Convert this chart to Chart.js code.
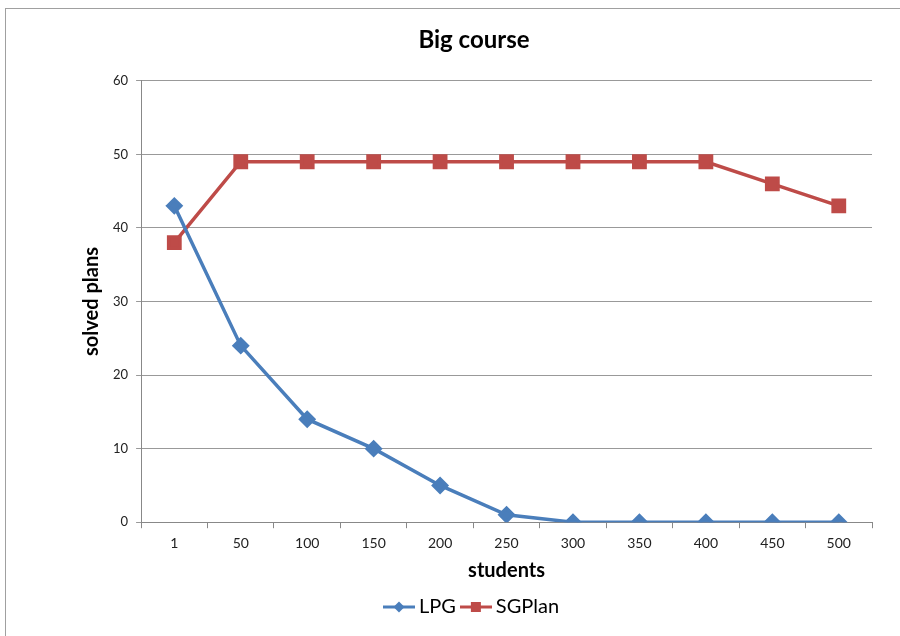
<!DOCTYPE html>
<html>
<head>
<meta charset="utf-8">
<script src="https://cdn.jsdelivr.net/npm/chart.js@4"></script>
<style>
  body { margin: 0; background: #fff; }
  #frame { position: absolute; left: 5px; top: 8px; width: 900px; height: 640px; border: 1px solid #a0a0a0; }
  #wrap { position: absolute; left: 0; top: 0; width: 900px; height: 636px; }
</style>
</head>
<body>
<div id="frame"></div>
<div id="wrap"><canvas id="Chart1"></canvas></div>
<script>
const students = ['1', '50', '100', '150', '200', '250', '300', '350', '400', '450', '500'];
const lpgSolved = [43, 24, 14, 10, 5, 1, 0, 0, 0, 0, 0];
const sgplanSolved = [38, 49, 49, 49, 49, 49, 49, 49, 49, 46, 43];

const blue = '#4a7ebb';
const red = '#be4b48';

// little line + marker picture for the legend
function legendIcon(color, diamond) {
  const c = document.createElement('canvas');
  c.width = 32;
  c.height = 14;
  const g = c.getContext('2d');
  g.strokeStyle = color;
  g.fillStyle = color;
  g.lineWidth = 3;
  g.beginPath();
  g.moveTo(0, 7);
  g.lineTo(32, 7);
  g.stroke();
  if (diamond) {
    g.beginPath();
    g.moveTo(16, 1.5);
    g.lineTo(21.5, 7);
    g.lineTo(16, 12.5);
    g.lineTo(10.5, 7);
    g.closePath();
    g.fill();
  } else {
    g.fillRect(11, 2, 10, 10);
  }
  return c;
}

function mainEvent() {
  const ctx = document.getElementById('Chart1').getContext('2d');
  Chart.defaults.font.family = 'Lato, "Open Sans", sans-serif';
  Chart.defaults.color = '#222';

  const icons = [legendIcon(blue, true), legendIcon(red, false)];

  const data = {
    labels: students,
    datasets: [
      {
        label: 'LPG',
        data: lpgSolved,
        borderColor: blue,
        backgroundColor: blue,
        borderWidth: 3.5,
        pointStyle: 'rectRot',
        pointRadius: 6.5,
        pointHoverRadius: 6.5
      },
      {
        label: 'SGPlan',
        data: sgplanSolved,
        borderColor: red,
        backgroundColor: red,
        borderWidth: 3.5,
        pointStyle: 'rect',
        pointRadius: 8,
        pointHoverRadius: 8
      }
    ]
  };

  const config = {
    type: 'line',
    data: data,
    options: {
      responsive: true,
      maintainAspectRatio: false,
      animation: false,
      layout: { padding: { left: 76, right: 28, top: 26, bottom: 9 } },
      plugins: {
        title: {
          display: true,
          text: 'Big course',
          font: { size: 24, weight: 'bold' },
          color: '#000',
          padding: { top: 0, bottom: 26 }
        },
        legend: {
          position: 'bottom',
          labels: {
            usePointStyle: true,
            font: { size: 20 },
            color: '#000',
            padding: 10,
            generateLabels: (chart) => {
              const items = Chart.defaults.plugins.legend.labels.generateLabels(chart);
              items.forEach((it, i) => { it.pointStyle = icons[i]; });
              return items;
            }
          }
        },
        tooltip: { enabled: false }
      },
      scales: {
        x: {
          offset: true,
          grid: { display: true, drawOnChartArea: false, offset: true, color: '#888', tickLength: 6 },
          border: { color: '#888' },
          ticks: { font: { size: 14 }, color: '#222', padding: 7 },
          title: { display: true, text: 'students', font: { size: 20, weight: 'bold' }, color: '#000', padding: { top: 0, bottom: 4 } }
        },
        y: {
          min: 0,
          max: 60,
          ticks: { stepSize: 10, font: { size: 13 }, color: '#222', padding: 8 },
          grid: { color: '#999', tickLength: 5 },
          border: { color: '#888' },
          title: { display: true, text: 'solved plans', font: { size: 20, weight: 'bold' }, color: '#000', padding: { bottom: 1 } }
        }
      }
    }
  };

  new Chart(ctx, config);
}

document.addEventListener('DOMContentLoaded', () => {
  mainEvent();
});
</script>
</body>
</html>
